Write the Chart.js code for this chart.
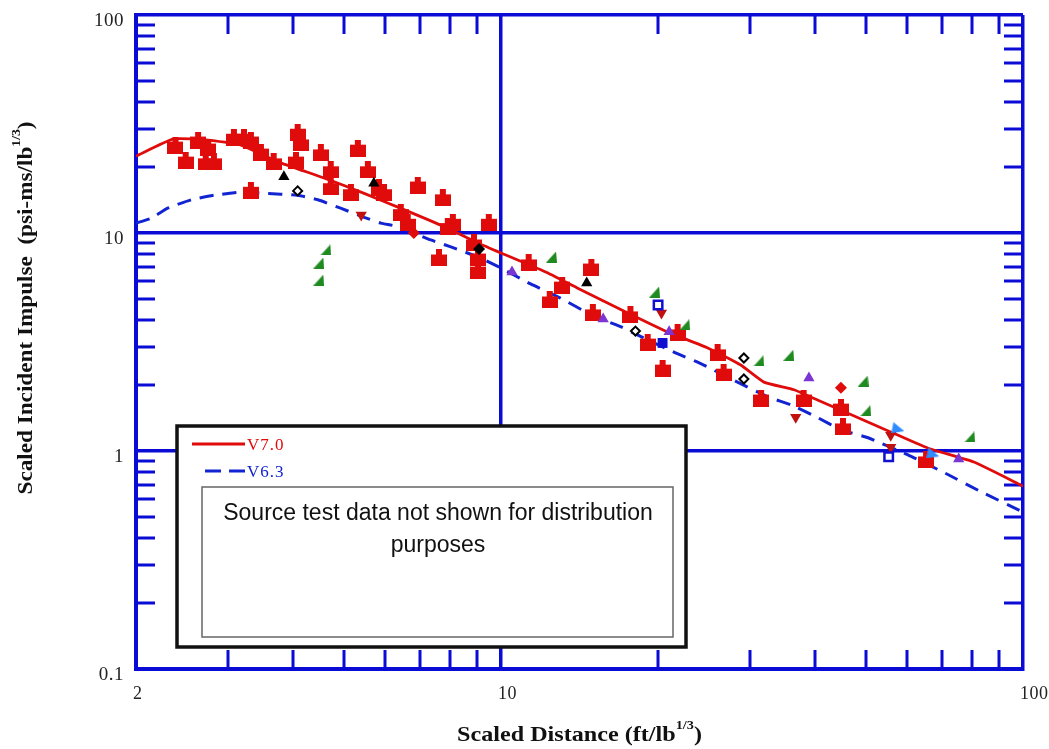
<!DOCTYPE html>
<html><head><meta charset="utf-8">
<script src="https://cdn.jsdelivr.net/npm/chart.js@4.4.1/dist/chart.umd.min.js"></script>
<style>html,body{margin:0;padding:0;background:#fff;}#wrap{width:1049px;height:749px;position:relative;}</style>
</head><body><div id="wrap"><canvas id="c"></canvas></div>
<script>
// ---- axis definitions ----
const xTickValues = [2, 10, 100];
const yTickValues = [0.1, 1, 10, 100];
const xMinorTicks = [3, 4, 5, 6, 7, 8, 9, 20, 30, 40, 50, 60, 70, 80, 90];
const yMinorTicks = [0.2, 0.3, 0.4, 0.5, 0.6, 0.7, 0.8, 0.9, 2, 3, 4, 5, 6, 7, 8, 9, 20, 30, 40, 50, 60, 70, 80, 90];

// ---- model curves ----
const v70X = [2.0, 2.36, 2.75, 3.18, 3.74, 4.58, 5.47, 6.52, 7.78, 9.04, 10, 12.3, 14.0, 17.5, 20.9, 24.9, 28.8, 31.9, 36.4, 40.5, 46.2, 55.9, 65.8, 80.5, 100];
const v70Y = [22.5, 27.0, 26.7, 25.3, 21.2, 17.9, 15.2, 12.8, 10.7, 9.0, 8.1, 6.56, 5.6, 4.30, 3.51, 2.97, 2.48, 2.07, 1.91, 1.71, 1.49, 1.22, 1.03, 0.89, 0.69];
const v63X = [2.0, 2.14, 2.30, 2.55, 2.82, 3.18, 3.52, 4.08, 4.46, 4.93, 5.47, 5.89, 6.35, 7.34, 8.02, 9.04, 10, 11.4, 13.0, 14.9, 17.0, 18.3, 21.4, 24.2, 27.2, 32.5, 35.9, 40.5, 44.8, 50.5, 60.2, 71.8, 83.1, 100];
const v63Y = [11.1, 11.7, 13.0, 14.2, 14.9, 15.4, 15.2, 14.9, 14.2, 13.0, 11.8, 11.1, 10.7, 9.29, 8.63, 7.76, 6.91, 5.84, 5.03, 4.21, 3.71, 3.40, 2.85, 2.51, 2.18, 1.77, 1.63, 1.42, 1.25, 1.15, 0.96, 0.78, 0.65, 0.525];

// ---- test data markers ----
const redSqX = [2.38, 2.49, 2.63, 2.75, 2.72, 2.82, 3.08, 3.22, 3.32, 3.47, 3.67, 3.32, 4.08, 4.14, 4.05, 4.52, 4.72, 4.72, 5.16, 5.32, 5.56, 5.84, 5.97, 6.93, 6.43, 6.63, 7.74, 8.09, 7.91, 7.61, 8.88, 9.04, 9.04, 9.48, 11.3, 14.9, 13.1, 12.4, 15.0, 17.7, 19.1, 21.8, 20.4, 26.0, 26.7, 31.5, 38.0, 44.8, 45.2, 65.2];
const redSqY = [25.3, 21.6, 26.7, 24.8, 21.2, 21.2, 27.5, 27.5, 26.7, 23.5, 21.2, 15.7, 29.0, 25.9, 21.6, 23.3, 19.5, 16.3, 15.3, 24.5, 19.5, 16.1, 15.3, 16.6, 12.4, 11.2, 14.5, 11.2, 10.7, 7.68, 9.0, 7.76, 6.76, 11.2, 7.29, 6.98, 5.77, 4.93, 4.30, 4.21, 3.16, 3.48, 2.40, 2.82, 2.30, 1.75, 1.75, 1.59, 1.29, 0.91];
const blackTriX = [3.84, 5.71, 14.6];
const blackTriY = [18.1, 16.9, 5.90];
const blackDiaX = [4.08, 18.1, 29.2, 29.2];
const blackDiaY = [15.6, 3.55, 2.67, 2.14];
const blackDiaFillX = [9.08];
const blackDiaFillY = [8.45];
const greenX = [4.62, 4.48, 4.48, 12.5, 19.7, 22.5, 31.2, 35.6, 49.4, 50.0, 79.1];
const greenY = [8.36, 7.28, 6.08, 7.76, 5.36, 3.79, 2.59, 2.75, 2.09, 1.53, 1.16];
const purpleX = [10.5, 15.7, 21.0, 38.9, 75.3];
const purpleY = [6.62, 4.03, 3.52, 2.16, 0.92];
const redDownX = [5.40, 20.3, 36.7, 55.8, 55.8];
const redDownY = [12.1, 4.30, 1.43, 1.18, 1.04];
const blueHollowX = [20.0, 55.3];
const blueHollowY = [4.68, 0.94];
const blueFillX = [20.4];
const blueFillY = [3.13];
const lightBlueX = [57.6, 67.2];
const lightBlueY = [1.28, 0.98];
const redDiaX = [44.8, 6.81];
const redDiaY = [1.95, 10.0];

// ---- styling ----
const AX = '#0b0bd6';
const RED = '#e00b0b';
const BLUE = '#1224d2';

function xy(xs, ys) { return xs.map((x, i) => ({ x: x, y: ys[i] })); }
function shape(w, h, color, pts) {
  const c = document.createElement('canvas'); c.width = w; c.height = h;
  const g = c.getContext('2d'); g.fillStyle = color; g.beginPath();
  pts.forEach((p, i) => i ? g.lineTo(p[0], p[1]) : g.moveTo(p[0], p[1]));
  g.closePath(); g.fill(); return c;
}
const redMarker = shape(16, 17, RED, [[0,5],[5,5],[5,0],[11,0],[11,5],[16,5],[16,17],[0,17]]);
const greenMarker = shape(11, 11, '#1f8a1f', [[0,11],[11,11],[10,0]]);
const lightBlueMarker = shape(13, 11, '#2f8cff', [[2,0],[13,9],[0,11]]);

const axisDeco = {
  id: 'axisDeco',
  beforeDraw(chart) {
    chart.ctx.letterSpacing = '0.5px';
  },
  beforeDatasetsDraw(chart) {
    const { ctx, chartArea: a, scales: { x, y } } = chart;
    ctx.letterSpacing = '0px';
    const TL = 19;
    ctx.save();
    ctx.strokeStyle = AX; ctx.lineWidth = 3;
    ctx.beginPath();
    xMinorTicks.forEach(v => {
      const p = Math.round(x.getPixelForValue(v));
      ctx.moveTo(p, a.bottom); ctx.lineTo(p, a.bottom - TL);
      ctx.moveTo(p, a.top); ctx.lineTo(p, a.top + TL);
    });
    yMinorTicks.forEach(v => {
      const p = Math.round(y.getPixelForValue(v));
      ctx.moveTo(a.left, p); ctx.lineTo(a.left + TL, p);
      ctx.moveTo(a.right, p); ctx.lineTo(a.right - TL, p);
    });
    ctx.stroke();
    ctx.restore();
  }
};

function drawSup(ctx, parts, x, y, size, targetW) {
  const base = 'bold ' + size + 'px "Liberation Serif"';
  const sup = 'bold ' + Math.round(size * 0.6) + 'px "Liberation Serif"';
  let total = 0;
  parts.forEach(p => { ctx.font = p.sup ? sup : base; total += ctx.measureText(p.t).width; });
  const sx = targetW / total;
  ctx.save();
  ctx.translate(x, y); ctx.scale(sx, 1);
  let cx = -total / 2;
  ctx.textAlign = 'left'; ctx.textBaseline = 'middle';
  parts.forEach(p => {
    ctx.font = p.sup ? sup : base;
    ctx.fillText(p.t, cx, p.sup ? -size * 0.42 : 0);
    cx += ctx.measureText(p.t).width;
  });
  ctx.restore();
}

const titlesAndLegend = {
  id: 'titlesAndLegend',
  afterDatasetsDraw(chart) {
    const { ctx, chartArea: a } = chart;
    const ds = chart.data.datasets;
    const l7 = ds.find(d => d.label === 'V7.0');
    const l6 = ds.find(d => d.label === 'V6.3');
    ctx.save();
    // legend box
    const bx = a.left + 41, by = a.top + 411, bw = 509, bh = 221;
    ctx.fillStyle = '#fff'; ctx.fillRect(bx, by, bw, bh);
    ctx.strokeStyle = '#111'; ctx.lineWidth = 3.5; ctx.strokeRect(bx, by, bw, bh);
    // entries
    ctx.lineWidth = 3;
    ctx.strokeStyle = l7.borderColor; ctx.setLineDash([]);
    ctx.beginPath(); ctx.moveTo(bx + 15, by + 18); ctx.lineTo(bx + 68, by + 18); ctx.stroke();
    ctx.strokeStyle = l6.borderColor; ctx.setLineDash([16, 8]);
    ctx.beginPath(); ctx.moveTo(bx + 28, by + 45); ctx.lineTo(bx + 68, by + 45); ctx.stroke();
    ctx.setLineDash([]);
    ctx.font = '17px "Liberation Serif"'; ctx.textAlign = 'left'; ctx.textBaseline = 'middle';
    ctx.letterSpacing = '1px';
    ctx.fillStyle = l7.borderColor; ctx.fillText(l7.label, bx + 70, by + 20);
    ctx.fillStyle = l6.borderColor; ctx.fillText(l6.label, bx + 70, by + 47);
    ctx.letterSpacing = '0px';
    // note box
    ctx.strokeStyle = '#666'; ctx.lineWidth = 1.5;
    ctx.strokeRect(bx + 25, by + 61, 471, 150);
    ctx.fillStyle = '#111'; ctx.font = '23px "Liberation Sans"'; ctx.textAlign = 'center';
    ctx.fillText('Source test data not shown for distribution', bx + 261, by + 88);
    ctx.fillText('purposes', bx + 261, by + 120);
    ctx.restore();
  },
  afterDraw(chart) {
    const { ctx, chartArea: a } = chart;
    ctx.save();
    ctx.fillStyle = '#111';
    drawSup(ctx, [{ t: 'Scaled Distance (ft/lb' }, { t: '1/3', sup: true }, { t: ')' }], (a.left + a.right) / 2, 735, 22, 245);
    ctx.translate(26, 308); ctx.rotate(-Math.PI / 2);
    drawSup(ctx, [{ t: 'Scaled Incident Impulse  (psi-ms/lb' }, { t: '1/3', sup: true }, { t: ')' }], 0, 0, 22, 373);
    ctx.restore();
  }
};

const markerBase = { showLine: false, pointBorderWidth: 0 };
new Chart(document.getElementById('c'), {
  type: 'scatter',
  data: {
    datasets: [
      { ...markerBase, label: 'black diamond', data: xy(blackDiaX, blackDiaY), pointStyle: 'rectRot', pointRadius: 4.5, pointBackgroundColor: '#fff', pointBorderColor: '#000', pointBorderWidth: 2 },
      { ...markerBase, label: 'black diamond filled', data: xy(blackDiaFillX, blackDiaFillY), pointStyle: 'rectRot', pointRadius: 6, pointBackgroundColor: '#000' },
      { ...markerBase, label: 'black triangle', data: xy(blackTriX, blackTriY), pointStyle: 'triangle', pointRadius: 6.5, pointBackgroundColor: '#000' },
      { ...markerBase, label: 'purple triangle', data: xy(purpleX, purpleY), pointStyle: 'triangle', pointRadius: 6.5, pointBackgroundColor: '#7a35d2' },
      { ...markerBase, label: 'green', data: xy(greenX, greenY), pointStyle: greenMarker },
      { ...markerBase, label: 'light blue', data: xy(lightBlueX, lightBlueY), pointStyle: lightBlueMarker },
      { ...markerBase, label: 'blue hollow', data: xy(blueHollowX, blueHollowY), pointStyle: 'rect', pointRadius: 6, pointBackgroundColor: '#fff', pointBorderColor: '#1010d0', pointBorderWidth: 2.5 },
      { ...markerBase, label: 'blue fill', data: xy(blueFillX, blueFillY), pointStyle: 'rect', pointRadius: 7, pointBackgroundColor: '#1010d0' },
      { ...markerBase, label: 'red down', data: xy(redDownX, redDownY), pointStyle: 'triangle', rotation: 180, pointRadius: 6.5, pointBackgroundColor: '#c01010' },
      { ...markerBase, label: 'red diamond', data: xy(redDiaX, redDiaY), pointStyle: 'rectRot', pointRadius: 6, pointBackgroundColor: RED },
      { ...markerBase, label: 'red squares', data: xy(redSqX, redSqY), pointStyle: redMarker },
      { label: 'V7.0', data: xy(v70X, v70Y), showLine: true, borderColor: RED, borderWidth: 2.8, pointRadius: 0, tension: 0.15 },
      { label: 'V6.3', data: xy(v63X, v63Y), showLine: true, borderColor: BLUE, borderWidth: 3, borderDash: [14, 9], pointRadius: 0, tension: 0.15 }
    ]
  },
  options: {
    responsive: true, maintainAspectRatio: false, animation: false,
    layout: { padding: { top: 15, right: 26, bottom: 0, left: 0 } },
    plugins: { legend: { display: false }, tooltip: { enabled: false } },
    scales: {
      x: {
        type: 'logarithmic', min: 2, max: 100, position: 'bottom',
        afterBuildTicks: s => { s.ticks = xTickValues.map(v => ({ value: v })); },
        afterFit: s => { s.height = 80; s.paddingLeft = 0; s.paddingRight = 0; },
        ticks: { callback: v => String(v), align: 'start', labelOffset: -3, padding: 14, color: '#222', font: { family: '"Liberation Serif"', size: 18 }, maxRotation: 0, autoSkip: false },
        grid: { color: AX, lineWidth: 3.5, drawTicks: false },
        border: { display: true, color: AX, width: 4 }
      },
      y: {
        type: 'logarithmic', min: 0.1, max: 100,
        afterBuildTicks: s => { s.ticks = yTickValues.map(v => ({ value: v })); },
        afterFit: s => { s.width = 136; s.paddingTop = 0; s.paddingBottom = 0; },
        ticks: { callback: v => String(v), labelOffset: 6, padding: 12, color: '#222', font: { family: '"Liberation Serif"', size: 19 }, autoSkip: false },
        grid: { color: AX, lineWidth: 3.5, drawTicks: false },
        border: { display: true, color: AX, width: 4 }
      }
    }
  },
  plugins: [axisDeco, titlesAndLegend]
});
</script>
</body></html>
